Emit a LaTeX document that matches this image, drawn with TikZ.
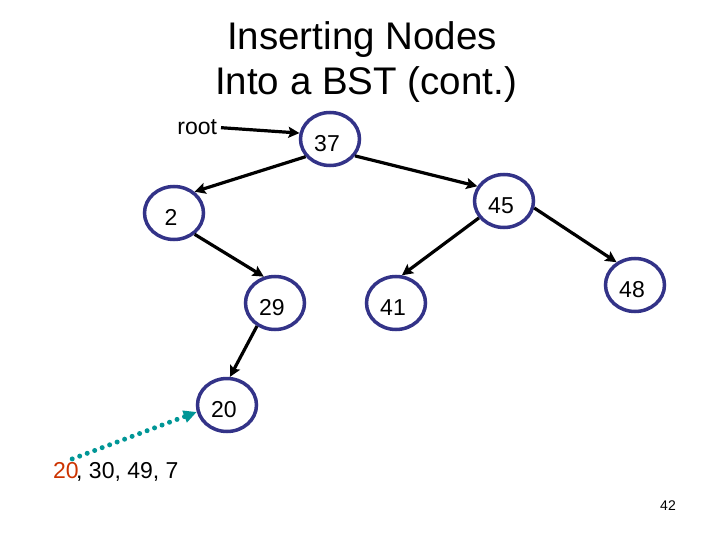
\documentclass[tikz,border=0pt]{standalone}
\usepackage{fontspec}
\setmainfont{Liberation Sans}
\usetikzlibrary{shapes.geometric,arrows.meta}
\definecolor{bstblue}{RGB}{51,51,136}
\definecolor{insteal}{RGB}{0,150,150}
\definecolor{insred}{RGB}{204,51,0}
\tikzset{
  bstnode/.style={ellipse, draw=bstblue, line width=3.5pt, fill=white,
    minimum width=59pt, minimum height=53pt, inner sep=0pt,
    text height=24.5pt, text depth=0pt,
    font=\fontsize{23}{23}\selectfont},
  link/.style={-{Stealth[length=11pt,width=11pt,inset=2pt]}, line width=3.2pt},
  insertpath/.style={-{Triangle[length=13pt,width=12pt]}, insteal,
    line width=5pt, line cap=round, dash pattern=on 0pt off 8pt},
  plaintext/.style={inner sep=0pt, font=\fontsize{23}{23}\selectfont},
}
\begin{document}
\begin{tikzpicture}[x=1pt,y=-1pt]
  \useasboundingbox (0,0) rectangle (720,540);
  % title
  \node[anchor=base, font=\fontsize{38.5}{38.5}\selectfont] (title1) at (362,50) {Inserting Nodes};
  \node[anchor=base, font=\fontsize{38.5}{38.5}\selectfont] (title2) at (366,95) {Into a BST (cont.)};

  % tree
  \node[plaintext, anchor=base east, outer xsep=4pt] (root) at (221,135) {root};
  \node[bstnode] (n37) at (330,139) {37\kern6pt};
  \node[bstnode] (n2) at (174,213) {2\kern6pt};
  \node[bstnode] (n45) at (504,201) {45\kern6pt};
  \node[bstnode] (n29) at (275,303) {29\kern6pt};
  \node[bstnode] (n41) at (396,303) {41\kern6pt};
  \node[bstnode] (n48) at (635,285) {48\kern6pt};
  \node[bstnode] (n20) at (227,405) {20\kern6pt};

  \draw[link] (root.east) -- (n37.169);
  \draw[link] (n37.216) -- (n2.46);
  \draw[link] (n37.326) -- (n45.151);
  \draw[link] (n2.314) -- (n29.113);
  \draw[link] (n45.214) -- (n41.78);
  \draw[link] (n45.347) -- (n48.129);
  \draw[link] (n29.232) -- (n20.84);

  % values still to insert
  \node[plaintext, anchor=base west, text=insred, outer sep=3pt] (first) at (50,478) {20};
  \node[plaintext, anchor=base west] (rest) at (76,478) {, 30, 49, 7};
  \draw[insertpath] (first.60) -- (n20.193);

  \node[anchor=base, font=\fontsize{14}{14}\selectfont] (pagenum) at (668,510) {42};
\end{tikzpicture}
\end{document}
